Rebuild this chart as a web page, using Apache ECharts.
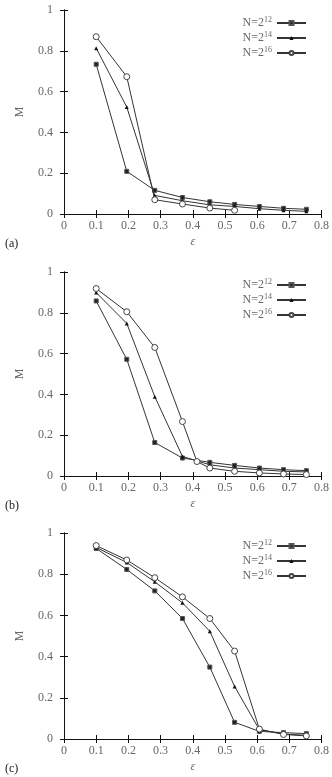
<!DOCTYPE html>
<html>
<head>
<meta charset="utf-8">
<script src="https://cdn.jsdelivr.net/npm/echarts@6/dist/echarts.min.js"></script>
<style>
  html, body { margin: 0; padding: 0; background: #fff; }
  #main { width: 332px; height: 777px; }
</style>
</head>
<body>
<div id="main"></div>
<script>
// x values (epsilon)
var eps = [0.1, 0.195, 0.282, 0.368, 0.453, 0.53, 0.607, 0.682, 0.753];
var epsA16 = [0.1, 0.195, 0.282, 0.368, 0.453, 0.53];
var epsB16 = [0.1, 0.195, 0.282, 0.368, 0.413, 0.453, 0.53, 0.607, 0.682, 0.753];

// panel (a)
var a12 = [0.734, 0.209, 0.116, 0.081, 0.06, 0.047, 0.037, 0.028, 0.023];
var a14 = [0.813, 0.524, 0.091, 0.065, 0.045, 0.037, 0.026, 0.018, 0.013];
var a16 = [0.869, 0.673, 0.07, 0.049, 0.029, 0.018];
// panel (b)
var b12 = [0.858, 0.572, 0.164, 0.088, 0.067, 0.052, 0.039, 0.031, 0.026];
var b14 = [0.899, 0.748, 0.389, 0.096, 0.055, 0.039, 0.031, 0.023, 0.02];
var b16 = [0.919, 0.805, 0.63, 0.267, 0.071, 0.039, 0.023, 0.015, 0.01, 0.007];
// panel (c)
var c12 = [0.925, 0.823, 0.719, 0.585, 0.349, 0.081, 0.037, 0.031, 0.026];
var c14 = [0.93, 0.857, 0.763, 0.661, 0.523, 0.255, 0.045, 0.024, 0.018];
var c16 = [0.939, 0.869, 0.783, 0.69, 0.585, 0.427, 0.048, 0.022, 0.015];

var names = ["N12", "N14", "N16"];
var panelLabels = ["(a)", "(b)", "(c)"];
var gridTops = [10, 272, 533];
var gridHeights = [204, 204, 206];

var FONT = "Liberation Serif";
var TXT = "#666";

function pairs(xs, ys) {
  return ys.map(function(y, i) { return [xs[i], y]; });
}

var panels = [
  [pairs(eps, a12), pairs(eps, a14), pairs(epsA16, a16)],
  [pairs(eps, b12), pairs(eps, b14), pairs(epsB16, b16)],
  [pairs(eps, c12), pairs(eps, c14), pairs(eps, c16)]
];

var markers = [
  { symbol: "rect", symbolSize: 4, itemStyle: { color: "#222", borderColor: "#555", borderWidth: 1 } },
  { symbol: "triangle", symbolSize: 4, itemStyle: { color: "#111", borderWidth: 0 } },
  { symbol: "circle", symbolSize: 6, itemStyle: { color: "#fff", borderColor: "#444", borderWidth: 1 } }
];

var grids = [], xAxes = [], yAxes = [], series = [], legends = [], titles = [];

for (var p = 0; p < 3; p++) {
  grids.push({ left: 64, right: 10, top: gridTops[p], height: gridHeights[p] });

  // bottom x axis
  xAxes.push({
    gridIndex: p, type: "value", min: 0, max: 0.8, interval: 0.1,
    name: "ε", nameLocation: "middle", nameGap: 22,
    nameTextStyle: { fontFamily: FONT, fontSize: 12, color: TXT, fontStyle: "italic" },
    axisLine: { lineStyle: { color: "#111", width: 1 } },
    axisTick: { inside: true, length: 4, lineStyle: { color: "#111" } },
    axisLabel: { fontFamily: FONT, fontSize: 12, color: TXT, margin: 6 },
    splitLine: { show: false }
  });
  // top x axis (ticks only)
  xAxes.push({
    gridIndex: p, type: "value", position: "top", min: 0, max: 0.8, interval: 0.1,
    axisLine: { lineStyle: { color: "#111", width: 1 } },
    axisTick: { inside: true, length: 4, lineStyle: { color: "#111" } },
    axisLabel: { show: false },
    splitLine: { show: false }
  });
  // left y axis
  yAxes.push({
    gridIndex: p, type: "value", min: 0, max: 1, interval: 0.2,
    name: "M", nameLocation: "middle", nameGap: 38,
    nameTextStyle: { fontFamily: FONT, fontSize: 12, color: TXT },
    axisLine: { show: true, lineStyle: { color: "#111", width: 1 } },
    axisTick: { show: true, inside: true, length: 4, lineStyle: { color: "#111" } },
    axisLabel: { fontFamily: FONT, fontSize: 12, color: TXT, margin: 11 },
    splitLine: { show: false }
  });
  // right y axis (ticks only)
  yAxes.push({
    gridIndex: p, type: "value", position: "right", min: 0, max: 1, interval: 0.2,
    axisLine: { show: true, lineStyle: { color: "#111", width: 1 } },
    axisTick: { show: true, inside: true, length: 4, lineStyle: { color: "#111" } },
    axisLabel: { show: false },
    splitLine: { show: false }
  });

  for (var s = 0; s < 3; s++) {
    series.push({
      name: names[s], type: "line",
      xAxisIndex: p * 2, yAxisIndex: p * 2,
      data: panels[p][s],
      symbol: markers[s].symbol, symbolSize: markers[s].symbolSize,
      itemStyle: markers[s].itemStyle,
      lineStyle: { color: "#333", width: 1 },
      color: "#333",
      animation: false, z: 3 + s
    });
  }

  legends.push({
    orient: "vertical", right: 20, top: gridTops[p] + 1,
    align: "right", itemWidth: 29, itemHeight: 5, itemGap: 1,
    data: names,
    formatter: function(n) { return "{b|N=2}{s|" + n.slice(1) + "}"; },
    textStyle: {
      color: TXT, fontFamily: FONT, fontSize: 12, padding: [0, 0, 0, 0],
      rich: {
        b: { fontFamily: FONT, fontSize: 12, color: TXT, lineHeight: 11 },
        s: { fontFamily: FONT, fontSize: 8, color: TXT, lineHeight: 11, padding: [0, 0, 6, 0] }
      }
    },
    selectedMode: false
  });

  titles.push({
    text: panelLabels[p], left: 0, top: gridTops[p] + gridHeights[p] + 19,
    textStyle: { fontFamily: FONT, fontSize: 12, color: "#222", fontWeight: "normal" }
  });
}

var myChart = echarts.init(document.getElementById("main"));
myChart.setOption({
  animation: false,
  title: titles,
  grid: grids,
  xAxis: xAxes,
  yAxis: yAxes,
  legend: legends,
  series: series
});
</script>
</body>
</html>
